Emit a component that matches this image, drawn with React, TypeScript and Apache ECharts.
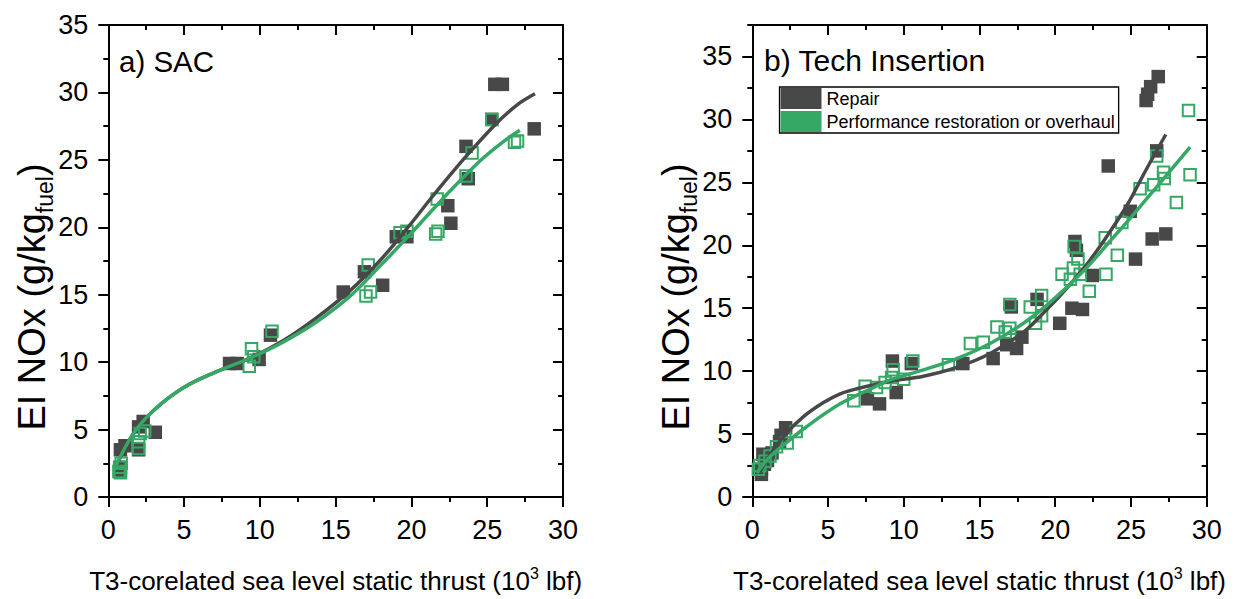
import React, { useEffect, useRef } from 'react';
import * as echarts from 'echarts';

const DARK = '#484848';
const GREEN = '#35a865';
const FONT = 'Arial, "Liberation Sans", Helvetica, sans-serif';

// tick labels
const xMajorTicks = [0, 5, 10, 15, 20, 25, 30];
const yMajorTicks = [0, 5, 10, 15, 20, 25, 30, 35];
const xMax = 30;
const yMaxSAC = 35;
const yMaxTech = 37.5;

const panelTitles = ['a) SAC', 'b) Tech Insertion'];
const seriesNames = ['Repair', 'Performance restoration or overhaul'];

// a) SAC — measured points [thrust, EI NOx]
const sacRepairPts = [
  [0.8, 1.9], [0.8, 2.2], [0.8, 3.5], [1.1, 3.8], [2.0, 3.5], [2.0, 5.2], [2.3, 5.6], [3.1, 4.8],
  [8.0, 9.9], [8.5, 9.9], [9.95, 10.2], [10.7, 12.0],
  [15.5, 15.2], [16.9, 16.7], [18.1, 15.7], [19.0, 19.3], [19.7, 19.3],
  [22.4, 21.6], [22.6, 20.3], [23.6, 26.0], [23.75, 23.6], [25.3, 28.0], [25.5, 30.6], [26.0, 30.6], [28.1, 27.3],
];
const sacPerfPts = [
  [0.7, 1.9], [0.75, 2.2], [0.85, 2.5], [0.8, 1.8], [2.0, 3.6], [2.0, 4.1], [2.1, 4.7], [2.4, 4.9],
  [9.3, 9.7], [9.45, 11.0], [9.6, 10.4], [10.8, 12.3],
  [17.0, 14.9], [17.3, 15.2], [17.15, 17.2], [19.25, 19.6], [19.7, 19.7],
  [21.7, 22.1], [21.6, 19.5], [21.75, 19.7], [23.6, 23.8], [24.0, 25.5], [25.3, 28.0], [26.8, 26.3], [27.0, 26.4],
];
// a) SAC — fitted curves
const sacRepairFit = [
  [0.55, 2.35], [1.65, 4.7], [2.97, 6.4], [4.95, 8.1], [7.15, 9.3], [9.35, 10.3], [11.55, 11.6],
  [13.75, 13.3], [15.95, 15.3], [17.9, 17.5], [19.7, 19.9], [21.4, 22.3], [23.4, 25.0],
  [25.6, 27.7], [27.0, 29.1], [28.15, 29.9],
];
const sacPerfFit = [
  [0.5, 2.3], [1.65, 4.7], [2.97, 6.4], [4.95, 8.1], [7.15, 9.3], [9.35, 10.3], [11.55, 11.5],
  [13.75, 13.0], [15.95, 14.9], [17.9, 17.1], [20.1, 19.7], [22.3, 22.4], [24.5, 24.9],
  [26.0, 26.3], [27.15, 27.2],
];

// b) Tech Insertion — measured points
const techRepairPts = [
  [0.6, 1.8], [0.6, 2.2], [0.8, 2.6], [1.0, 2.9], [0.7, 3.4], [1.0, 3.3], [1.3, 3.5], [1.8, 4.4], [1.9, 4.9], [2.2, 5.5],
  [7.6, 7.8], [8.4, 7.4], [9.25, 10.8], [9.5, 8.3], [10.5, 10.6],
  [13.9, 10.6], [15.9, 11.0], [16.8, 12.1], [17.1, 15.1], [17.45, 11.8], [17.8, 12.7], [18.8, 15.7],
  [20.3, 13.8], [21.1, 15.0], [21.3, 20.3], [21.4, 19.6], [21.8, 14.9], [22.45, 17.6],
  [23.5, 26.3], [24.95, 22.7], [25.3, 18.9], [26.0, 31.5], [26.1, 32.0], [26.3, 32.6], [26.4, 20.5],
  [26.7, 27.5], [26.8, 33.4], [27.3, 20.9],
];
const techPerfPts = [
  [0.4, 2.2], [0.5, 2.5], [0.84, 2.85], [1.17, 3.25], [1.6, 4.0], [2.3, 4.3], [2.9, 5.2],
  [6.7, 7.65], [7.45, 8.8], [8.2, 8.7], [8.77, 9.1], [9.2, 9.5], [9.3, 10.1], [10.0, 9.35], [10.6, 10.8],
  [12.95, 10.5], [14.4, 12.2], [15.25, 12.3], [16.15, 13.5], [16.7, 13.1], [17.0, 13.4], [17.0, 15.3],
  [18.35, 15.1], [18.7, 13.8], [19.1, 16.0], [19.1, 14.4],
  [20.45, 17.7], [21.0, 17.3], [21.2, 18.2], [21.25, 19.9], [21.5, 18.9], [21.65, 17.7], [22.25, 16.35],
  [23.3, 20.6], [23.35, 17.7], [24.1, 19.2], [24.4, 21.8], [25.6, 24.5], [26.5, 24.8], [26.7, 27.1],
  [27.15, 25.8], [27.2, 25.3], [28.0, 23.4], [28.8, 30.7], [28.9, 25.6],
];
// b) Tech Insertion — fitted curves
const techRepairFit = [
  [0.5, 2.0], [1.2, 3.4], [2.2, 5.0], [3.4, 6.4], [4.7, 7.5], [5.8, 8.2], [6.9, 8.6], [9.1, 9.2],
  [11.3, 9.6], [13.5, 10.3], [15.7, 11.4], [17.9, 13.1], [19.2, 14.6], [20.55, 16.3], [22.1, 18.5],
  [23.4, 20.7], [24.75, 23.2], [26.0, 26.0], [27.3, 28.8],
];
const techPerfFit = [
  [0.3, 1.9], [1.0, 3.0], [1.83, 3.9], [3.6, 5.6], [5.8, 7.4], [8.0, 8.7], [9.1, 9.3], [11.3, 10.1],
  [13.5, 11.0], [15.7, 12.2], [17.9, 13.8], [19.7, 15.5], [21.9, 18.0], [23.6, 20.3], [25.2, 22.5],
  [26.95, 25.0], [28.9, 27.8],
];

const grids = [
  { left: 108.3, top: 25, width: 454.7, height: 480 },
  { left: 752.3, top: 25, width: 454.4, height: 480 },
];

const lineStyleAxis = { color: '#000', width: 2 };

function buildAxes(kind: 'x' | 'y', gi: number, max: number, majors: number[], extra: any) {
  const main = kind === 'x' ? 'bottom' : 'left';
  const mirror = kind === 'x' ? 'top' : 'right';
  const base: any = {
    type: 'value', gridIndex: gi, min: 0, max,
    splitLine: { show: false }, splitArea: { show: false },
  };
  return [
    {
      ...base, position: main, interval: 5,
      axisLine: { show: true, onZero: false, lineStyle: lineStyleAxis },
      axisTick: { show: true, inside: false, length: 10, lineStyle: lineStyleAxis, customValues: majors },
      axisLabel: {
        show: true, customValues: majors, fontSize: 27, color: '#000', fontFamily: FONT,
        margin: kind === 'x' ? 19 : 20,
      },
      ...extra,
    },
    {
      ...base, position: main, interval: 2.5,
      axisLine: { show: false, onZero: false },
      axisTick: { show: true, inside: false, length: 5, lineStyle: lineStyleAxis },
      axisLabel: { show: false },
    },
    {
      ...base, position: mirror, interval: 5,
      axisLine: { show: true, onZero: false, lineStyle: lineStyleAxis },
      axisTick: { show: true, inside: true, length: 10, lineStyle: lineStyleAxis, customValues: majors },
      axisLabel: { show: false },
    },
    {
      ...base, position: mirror, interval: 2.5,
      axisLine: { show: false, onZero: false },
      axisTick: { show: true, inside: true, length: 5, lineStyle: lineStyleAxis },
      axisLabel: { show: false },
    },
  ];
}

const xName = {
  name: '{n|T3-corelated sea level static thrust (10}{sup|3}{n| lbf)}',
  nameLocation: 'middle',
  nameGap: 68,
  nameTextStyle: {
    color: '#000', fontFamily: FONT, fontSize: 26,
    rich: {
      n: { fontSize: 26, fontFamily: FONT, color: '#000', lineHeight: 32 },
      sup: { fontSize: 16, fontFamily: FONT, color: '#000', lineHeight: 18, verticalAlign: 'top' },
    },
  },
};

function yTitle(cx: number, cy: number) {
  return {
    type: 'text',
    x: cx, y: cy, rotation: Math.PI / 2,
    style: {
      text: '{a|EI NOx (g/kg}{s|fuel}{a|)}',
      textAlign: 'center', textVerticalAlign: 'middle', align: 'center', verticalAlign: 'middle',
      fill: '#000', fontSize: 38, fontFamily: FONT,
      rich: {
        a: { fontSize: 38, fontFamily: FONT, fill: '#000', color: '#000', lineHeight: 48 },
        s: { fontSize: 23, fontFamily: FONT, fill: '#000', color: '#000', lineHeight: 23, verticalAlign: 'bottom' },
      },
    },
  };
}

function panelSeries(gi: number, repPts: number[][], perfPts: number[][], repFit: number[][], perfFit: number[][]) {
  const ax = gi * 4;
  return [
    {
      type: 'scatter', name: seriesNames[0], xAxisIndex: ax, yAxisIndex: ax, data: repPts,
      symbol: 'rect', symbolSize: 13.5, itemStyle: { color: DARK, opacity: 1 }, z: 2, emphasis: { disabled: true },
    },
    {
      type: 'scatter', name: seriesNames[1], xAxisIndex: ax, yAxisIndex: ax, data: perfPts,
      symbol: 'rect', symbolSize: 11.5,
      itemStyle: { color: 'rgba(255,255,255,0)', borderColor: GREEN, borderWidth: 2, opacity: 1 }, z: 3,
      emphasis: { disabled: true },
    },
    {
      type: 'line', name: seriesNames[0] + ' fit', xAxisIndex: ax, yAxisIndex: ax, data: repFit,
      smooth: 0.35, showSymbol: false, symbol: 'none',
      lineStyle: { color: DARK, width: 3.5 }, z: 4, emphasis: { disabled: true },
    },
    {
      type: 'line', name: seriesNames[1] + ' fit', xAxisIndex: ax, yAxisIndex: ax, data: perfFit,
      smooth: 0.35, showSymbol: false, symbol: 'none',
      lineStyle: { color: GREEN, width: 3.5 }, z: 5, emphasis: { disabled: true },
    },
  ];
}

export default function App() {
  const ref = useRef<HTMLDivElement>(null);
  useEffect(() => {
    if (!ref.current) return;
    const chart = echarts.init(ref.current, undefined, { renderer: 'svg' });
    const option: any = {
      animation: false,
      backgroundColor: '#fff',
      textStyle: { fontFamily: FONT },
      title: [
        { text: panelTitles[0], left: 119, top: 46, padding: 0, textStyle: { fontSize: 29.5, fontWeight: 'normal', color: '#000', fontFamily: FONT } },
        { text: panelTitles[1], left: 764, top: 45, padding: 0, textStyle: { fontSize: 30, fontWeight: 'normal', color: '#000', fontFamily: FONT } },
      ],
      legend: {
        show: true,
        orient: 'vertical',
        left: 779.5, top: 87,
        itemWidth: 41, itemHeight: 21, itemGap: 2,
        padding: [1, 4, 1, 1],
        borderColor: '#000', borderWidth: 1.3,
        selectedMode: false,
        textStyle: { fontSize: 18, color: '#000', fontFamily: FONT },
        data: [
          { name: seriesNames[0], icon: 'rect', itemStyle: { color: DARK, borderWidth: 0, opacity: 1 } },
          { name: seriesNames[1], icon: 'rect', itemStyle: { color: GREEN, borderWidth: 0, opacity: 1 } },
        ],
      },
      grid: grids.map((g) => ({ ...g, containLabel: false })),
      xAxis: [
        ...buildAxes('x', 0, xMax, xMajorTicks, xName),
        ...buildAxes('x', 1, xMax, xMajorTicks, xName),
      ],
      yAxis: [
        ...buildAxes('y', 0, yMaxSAC, yMajorTicks, {}),
        ...buildAxes('y', 1, yMaxTech, yMajorTicks, {}),
      ],
      graphic: [yTitle(32, 297), yTitle(676, 297)],
      series: [
        ...panelSeries(0, sacRepairPts, sacPerfPts, sacRepairFit, sacPerfFit),
        ...panelSeries(1, techRepairPts, techPerfPts, techRepairFit, techPerfFit),
      ],
    };
    chart.setOption(option);
    return () => chart.dispose();
  }, []);
  return <div ref={ref} style={{ position: 'absolute', left: 0, top: 0, width: 1239, height: 599 }} />;
}
